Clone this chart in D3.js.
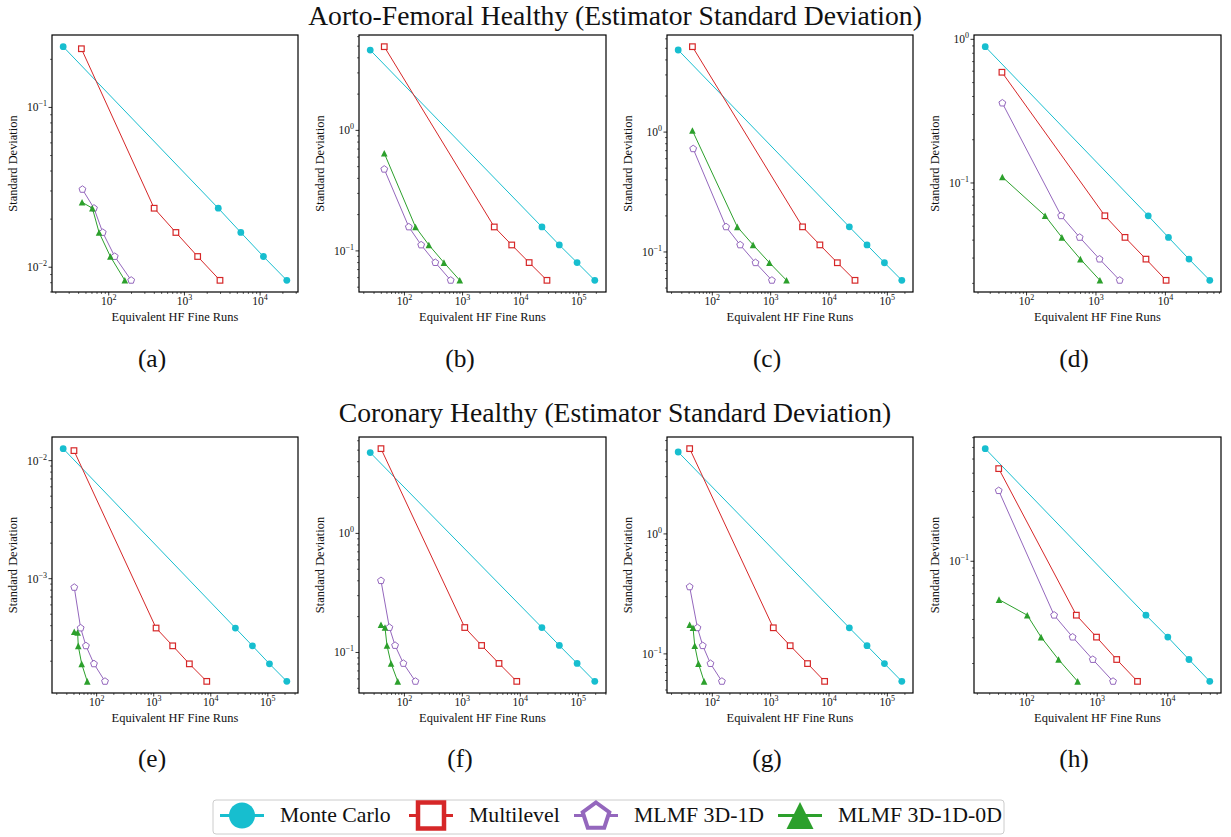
<!DOCTYPE html>
<html><head><meta charset="utf-8">
<script src="https://cdn.jsdelivr.net/npm/d3@7"></script>
<style>
body{margin:0;background:#fff}
svg{display:block}
text{font-family:"Liberation Serif","Times New Roman",serif;fill:#111}
</style>
</head><body>
<svg id="chart" width="1231" height="837"></svg>
<script>
// ---------------- DATA ----------------
const seriesNames = ["Monte Carlo", "Multilevel", "MLMF 3D-1D", "MLMF 3D-1D-0D"];
const panelLabels = ["(a)", "(b)", "(c)", "(d)", "(e)", "(f)", "(g)", "(h)"];
const rowTitles = ["Aorto-Femoral Healthy (Estimator Standard Deviation)",
                   "Coronary Healthy (Estimator Standard Deviation)"];
const xAxisLabel = "Equivalent HF Fine Runs";
const yAxisLabel = "Standard Deviation";

const monteCarloX = [
 [25, 2800, 5560, 11070, 22540],
 [25.8, 23200, 46100, 93300, 188000],
 [26, 22300, 44800, 89100, 177000],
 [25.4, 5660, 11070, 21900, 43600],
 [25.9, 27000, 53700, 106700, 215000],
 [25.7, 23600, 47200, 95700, 193000],
 [26, 22300, 44800, 89100, 177000],
 [25.9, 4900, 10000, 19950, 39300]];
const monteCarloY = [
 [0.240, 0.0234, 0.0165, 0.01167, 0.00828],
 [4.64, 0.158, 0.112, 0.080, 0.057],
 [4.84, 0.162, 0.1145, 0.0813, 0.058],
 [0.889, 0.0591, 0.0418, 0.0295, 0.0210],
 [0.01264, 0.000382, 0.000270, 0.000190, 0.000135],
 [4.77, 0.162, 0.1145, 0.0809, 0.0572],
 [4.82, 0.165, 0.117, 0.083, 0.059],
 [0.589, 0.0428, 0.0303, 0.0213, 0.0151]];
const multilevelX = [
 [43.5, 398, 771, 1496, 2950],
 [45, 3510, 7010, 13970, 28300],
 [45.6, 3520, 6980, 13900, 27900],
 [44.2, 1343, 2620, 5250, 10240],
 [40, 1100, 2150, 4210, 8500],
 [39.4, 1100, 2150, 4290, 8690],
 [40.9, 1110, 2160, 4290, 8410],
 [40.2, 506, 977, 1887, 3720]];
const multilevelY = [
 [0.233, 0.0234, 0.0165, 0.01167, 0.00828],
 [4.95, 0.158, 0.112, 0.080, 0.057],
 [5.16, 0.162, 0.1145, 0.0813, 0.058],
 [0.590, 0.0591, 0.0418, 0.0295, 0.0210],
 [0.01216, 0.000382, 0.000270, 0.000190, 0.000135],
 [5.15, 0.162, 0.1145, 0.0809, 0.0572],
 [5.14, 0.165, 0.117, 0.083, 0.059],
 [0.430, 0.0428, 0.0303, 0.0213, 0.0151]];
const mlmf3d1dX = [
 [44.9, 63.8, 83.3, 120, 198],
 [45, 119, 194, 340, 625],
 [47, 172, 300, 550, 1050],
 [44.8, 315, 583, 1127, 2200],
 [40.5, 52.4, 64.9, 89.7, 140],
 [39.4, 55, 69, 96, 155],
 [40.9, 55.6, 68.6, 93, 146],
 [40.2, 245, 448, 865, 1675]];
const mlmf3d1dY = [
 [0.0307, 0.0234, 0.0165, 0.01167, 0.00828],
 [0.476, 0.158, 0.112, 0.080, 0.057],
 [0.726, 0.162, 0.1145, 0.0813, 0.058],
 [0.360, 0.0591, 0.0418, 0.0295, 0.0210],
 [0.000844, 0.000382, 0.000270, 0.000190, 0.000135],
 [0.401, 0.162, 0.1145, 0.0809, 0.0572],
 [0.362, 0.165, 0.117, 0.083, 0.059],
 [0.304, 0.0428, 0.0303, 0.0213, 0.0151]];
const mlmf3d1d0dX = [
 [44.4, 60.8, 74.5, 105, 163],
 [45, 155, 263, 478, 895],
 [45.6, 268, 500, 953, 1870],
 [44.8, 185, 323, 597, 1140],
 [40.5, 46.4, 47.6, 54.6, 68.4],
 [39.4, 46.2, 50, 58.8, 76.7],
 [40.9, 46.7, 50, 57.8, 72.3],
 [40.6, 102, 160, 283, 528]];
const mlmf3d1d0dY = [
 [0.0255, 0.0234, 0.0165, 0.01167, 0.00828],
 [0.647, 0.158, 0.112, 0.080, 0.057],
 [1.03, 0.162, 0.1145, 0.0813, 0.058],
 [0.110, 0.0591, 0.0418, 0.0295, 0.0210],
 [0.000355, 0.000350, 0.000270, 0.000190, 0.000135],
 [0.171, 0.162, 0.1145, 0.0809, 0.0572],
 [0.175, 0.165, 0.117, 0.083, 0.059],
 [0.0547, 0.0428, 0.0303, 0.0213, 0.0151]];

// ---------------- STYLE / LAYOUT ----------------
const colors = ["#17becf", "#d62728", "#9467bd", "#2ca02c"];
const markerTypes = ["circle", "square", "pentagon", "triangle"];
const colLeft = [52, 359, 667, 974], colRight = [298, 606, 913, 1221];
const rowTop = [35, 437], rowBottom = [292, 693];

const svg = d3.select("#chart");
const allX = [monteCarloX, multilevelX, mlmf3d1dX, mlmf3d1d0dX];
const allY = [monteCarloY, multilevelY, mlmf3d1dY, mlmf3d1d0dY];

function markerPath(type, r) {
  if (type === "pentagon") {
    const pts = d3.range(5).map(k => {
      const a = -Math.PI / 2 + k * 2 * Math.PI / 5;
      return [r * Math.cos(a), r * Math.sin(a)];
    });
    return "M" + pts.map(p => p.join(",")).join("L") + "Z";
  }
  if (type === "triangle") return `M0,${-r}L${-r},${r}L${r},${r}Z`;
  return null;
}
function drawMarker(g, type, color, cx, cy, s) {
  if (type === "circle") {
    g.append("circle").attr("cx", cx).attr("cy", cy).attr("r", 3.4 * s).attr("fill", color);
  } else if (type === "square") {
    const a = 5.6 * s;
    g.append("rect").attr("x", cx - a / 2).attr("y", cy - a / 2).attr("width", a).attr("height", a)
      .attr("fill", "#fff").attr("stroke", color).attr("stroke-width", 1.2 * s);
  } else if (type === "pentagon") {
    g.append("path").attr("d", markerPath("pentagon", 3.6 * s)).attr("transform", `translate(${cx},${cy})`)
      .attr("fill", "#fff").attr("stroke", color).attr("stroke-width", 1.0 * s);
  } else {
    g.append("path").attr("d", markerPath("triangle", 3.3 * s)).attr("transform", `translate(${cx},${cy})`)
      .attr("fill", color);
  }
}
function supLabel(sel, exp) {
  sel.append("tspan").text("10");
  sel.append("tspan").attr("dy", -5).attr("font-size", 8).text(exp < 0 ? "\u2212" + (-exp) : String(exp));
}
function paddedLogDomain(vals) {
  const lo = Math.log10(d3.min(vals)), hi = Math.log10(d3.max(vals));
  const p = (hi - lo) * 0.05;
  return [Math.pow(10, lo - p), Math.pow(10, hi + p)];
}
function logTicks(domain) {
  const out = [];
  const k0 = Math.floor(Math.log10(domain[0])), k1 = Math.ceil(Math.log10(domain[1]));
  for (let k = k0; k <= k1; k++) for (let m = 1; m <= 9; m++) {
    const v = m * Math.pow(10, k);
    if (v >= domain[0] * 0.99999 && v <= domain[1] * 1.00001) out.push({v, major: m === 1, exp: k});
  }
  return out;
}

const axisLabelNodes = [];
for (let i = 0; i < 8; i++) {
  const col = i % 4, row = Math.floor(i / 4);
  const L = colLeft[col], R = colRight[col], T = rowTop[row], B = rowBottom[row];
  const xs = [].concat(...allX.map(a => a[i]));
  const ys = [].concat(...allY.map(a => a[i]));
  const x = d3.scaleLog().domain(paddedLogDomain(xs)).range([L, R]);
  const y = d3.scaleLog().domain(paddedLogDomain(ys)).range([B, T]);
  const g = svg.append("g");

  // series
  for (let s = 0; s < 4; s++) {
    const pts = allX[s][i].map((xv, j) => [xv, allY[s][i][j]]);
    const sg = g.append("g");
    sg.append("path").attr("d", d3.line().x(d => x(d[0])).y(d => y(d[1]))(pts))
      .attr("fill", "none").attr("stroke", colors[s]).attr("stroke-width", 1);
    pts.forEach(p => drawMarker(sg, markerTypes[s], colors[s], x(p[0]), y(p[1]), 1));
  }

  // frame
  g.append("rect").attr("x", L).attr("y", T).attr("width", R - L).attr("height", B - T)
    .attr("fill", "none").attr("stroke", "#000").attr("stroke-width", 1.2);

  // x ticks
  logTicks(x.domain()).forEach(t => {
    const px = x(t.v);
    g.append("line").attr("x1", px).attr("x2", px).attr("y1", B).attr("y2", B + (t.major ? 3.5 : 2))
      .attr("stroke", "#000").attr("stroke-width", t.major ? 0.8 : 0.6);
    if (t.major) {
      const tx = g.append("text").attr("x", px).attr("y", B + 12.5).attr("text-anchor", "middle")
        .attr("font-size", 11.5);
      supLabel(tx, t.exp);
    }
  });
  // y ticks
  logTicks(y.domain()).forEach(t => {
    const py = y(t.v);
    g.append("line").attr("x1", L).attr("x2", L - (t.major ? 3.5 : 2)).attr("y1", py).attr("y2", py)
      .attr("stroke", "#000").attr("stroke-width", t.major ? 0.8 : 0.6);
    if (t.major) {
      const ty = g.append("text").attr("x", L - 5).attr("y", py + 4).attr("text-anchor", "end")
        .attr("font-size", 11.5);
      supLabel(ty, t.exp);
    }
  });

  // axis labels
  const xl = g.append("text").attr("x", (L + R) / 2).attr("y", B + 29).attr("text-anchor", "middle")
    .attr("font-size", 12).text(xAxisLabel);
  const yl = g.append("text").attr("transform", `translate(${L - 35.5},${(T + B) / 2}) rotate(-90)`)
    .attr("text-anchor", "middle").attr("font-size", 12).text(yAxisLabel);
  axisLabelNodes.push(xl, yl);

  // panel label
  const lblX = [152, 460, 767, 1074][col];
  svg.append("text").attr("class", "plabel").attr("x", lblX).attr("y", row === 0 ? 367 : 767)
    .attr("text-anchor", "middle").attr("font-size", 22).text(panelLabels[i]);
}

// fit axis label font size
{
  const w = axisLabelNodes[0].node().getComputedTextLength();
  const fs = 12 * 127 / w;
  axisLabelNodes.forEach(n => n.attr("font-size", fs));
}

// titles
const t1 = svg.append("text").attr("x", 615).attr("text-anchor", "middle")
  .attr("font-size", 24).text(rowTitles[0]);
const tfs = 24 * 614 / t1.node().getComputedTextLength();
t1.attr("font-size", tfs).attr("y", Math.max(22, Math.ceil(tfs * 0.9)));
svg.append("text").attr("x", 615).attr("y", 422).attr("text-anchor", "middle")
  .attr("font-size", tfs).text(rowTitles[1]);
svg.selectAll(".plabel").attr("font-size", tfs * 0.92);

// legend
const lg = svg.append("g");
lg.append("rect").attr("x", 213).attr("y", 800).attr("width", 791).attr("height", 34).attr("rx", 3)
  .attr("fill", "#fff").attr("stroke", "#cccccc").attr("stroke-width", 1);
const handleX = [242, 431, 596, 800];
let legendTexts = [];
seriesNames.forEach((name, s) => {
  const hx = handleX[s], hy = 815.5;
  lg.append("line").attr("x1", hx - 22).attr("x2", hx + 22).attr("y1", hy).attr("y2", hy)
    .attr("stroke", colors[s]).attr("stroke-width", 3);
  if (markerTypes[s] === "circle") {
    lg.append("circle").attr("cx", hx).attr("cy", hy).attr("r", 13).attr("fill", colors[s]);
  } else if (markerTypes[s] === "square") {
    lg.append("rect").attr("x", hx - 13).attr("y", hy - 13).attr("width", 26).attr("height", 26)
      .attr("fill", "#fff").attr("stroke", colors[s]).attr("stroke-width", 4.5);
  } else if (markerTypes[s] === "pentagon") {
    lg.append("path").attr("d", markerPath("pentagon", 14)).attr("transform", `translate(${hx},${hy + 1})`)
      .attr("fill", "#fff").attr("stroke", colors[s]).attr("stroke-width", 4);
  } else {
    lg.append("path").attr("d", markerPath("triangle", 13.5)).attr("transform", `translate(${hx},${hy})`)
      .attr("fill", colors[s]);
  }
  legendTexts.push(lg.append("text").attr("x", hx + 38).attr("y", 822).attr("font-size", 19).text(name));
});
{
  const w = legendTexts[0].node().getComputedTextLength();
  const fs = 19 * 110.7 / w;
  legendTexts.forEach(t => t.attr("font-size", fs));
}
</script>
</body></html>
